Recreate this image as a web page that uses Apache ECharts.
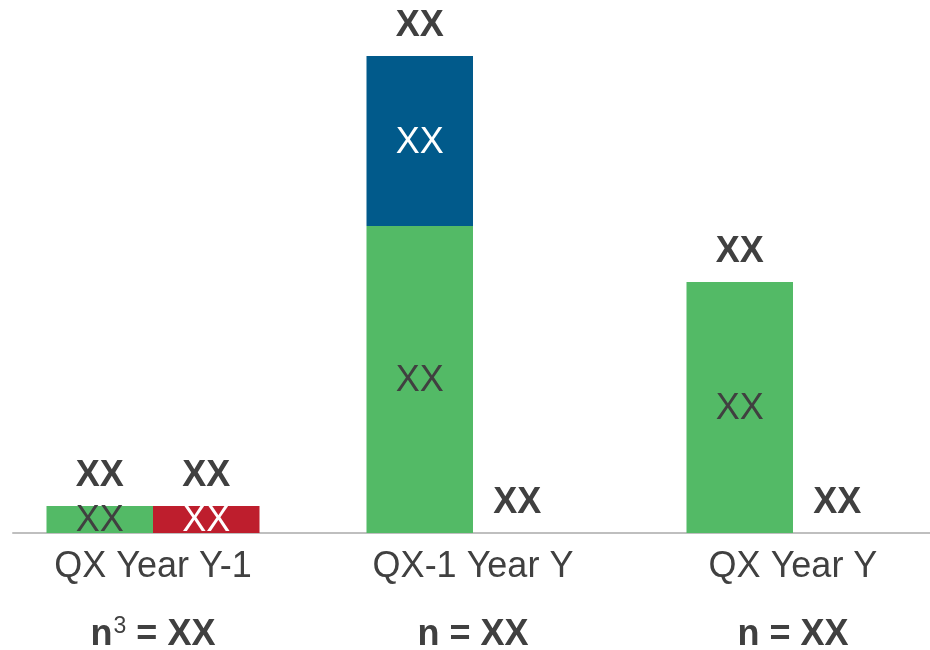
<!DOCTYPE html>
<html>
<head>
<meta charset="utf-8">
<script src="https://cdn.jsdelivr.net/npm/echarts@6/dist/echarts.min.js"></script>
<style>html,body{margin:0;padding:0;background:#fff}#c{width:930px;height:650px}</style>
</head>
<body>
<div id="c"></div>
<script>
const categories = ['QX Year Y-1', 'QX-1 Year Y', 'QX Year Y'];
const nPrefix = ['n', 'n', 'n'];
const nSuperscript = ['3', '', ''];
const nSuffix = [' = XX', ' = XX', ' = XX'];
const greenValues = [27, 307, 251];
const blueValues = [0, 170, 0];
const redValues = [27, 0, 0];
const barText = 'XX';

const FONT = '"Liberation Sans", Arial, sans-serif';
const TXT = '#404040';
const chart = echarts.init(document.getElementById('c'));

function items(vals) {
  return vals.map(v => v === 0 ? { value: v, label: { show: false } } : { value: v });
}
const leftTotals = categories.map(() => 0);
const rightTotals = redValues.map(v => v === 0 ? { value: 0, label: { offset: [-9, 0] } } : { value: 0 });

chart.setOption({
  animation: false,
  grid: [
    { left: -7, width: 960, top: 33, bottom: 117, outerBoundsMode: 'none' },
    { left: 13, right: 0, top: 33, bottom: 117, outerBoundsMode: 'none' }
  ],
  xAxis: [
    {
      type: 'category', data: categories, gridIndex: 0,
      axisLine: { show: false }, axisTick: { show: false },
      axisLabel: {
        margin: 2, interval: 0,
        formatter: (v, i) => '{a|' + v + '}\n{b|' + nPrefix[i] + '}' +
          (nSuperscript[i] ? '{s|' + nSuperscript[i] + '}' : '') + '{b|' + nSuffix[i] + '}',
        rich: {
          a: { fontFamily: FONT, fontSize: 36, color: TXT, lineHeight: 64 },
          b: { fontFamily: FONT, fontSize: 36, fontWeight: 'bold', color: TXT, lineHeight: 72 },
          s: { fontFamily: FONT, fontSize: 23, color: TXT, padding: [0, 0, 16, 1] }
        }
      }
    },
    {
      type: 'category', data: categories, gridIndex: 1, position: 'bottom',
      axisLine: { show: true, lineStyle: { color: '#bfbfbf', width: 2 } },
      axisTick: { show: false }, axisLabel: { show: false }
    }
  ],
  yAxis: [
    { type: 'value', min: 0, max: 500, gridIndex: 0, show: false },
    { type: 'value', min: 0, max: 500, gridIndex: 1, show: false }
  ],
  series: [
    {
      type: 'bar', name: 'green', stack: 'left', data: items(greenValues),
      barWidth: 106.5, barGap: '0%',
      itemStyle: { color: '#53ba66' },
      label: { show: true, position: 'inside', offset: [0, 2], formatter: barText, fontFamily: FONT, fontSize: 36, color: TXT }
    },
    {
      type: 'bar', name: 'blue', stack: 'left', data: items(blueValues),
      itemStyle: { color: '#015a8b' },
      label: { show: true, position: 'inside', offset: [0, 2], formatter: barText, fontFamily: FONT, fontSize: 36, color: '#ffffff' }
    },
    {
      type: 'bar', name: 'leftTotal', stack: 'left', data: leftTotals,
      itemStyle: { color: 'transparent' },
      label: { show: true, position: 'top', distance: 12, formatter: barText, fontFamily: FONT, fontSize: 36, fontWeight: 'bold', color: TXT }
    },
    {
      type: 'bar', name: 'red', stack: 'right', data: items(redValues),
      barWidth: 106.5,
      itemStyle: { color: '#be1e2d' },
      label: { show: true, position: 'inside', offset: [0, 2], formatter: barText, fontFamily: FONT, fontSize: 36, color: '#ffffff' }
    },
    {
      type: 'bar', name: 'rightTotal', stack: 'right', data: rightTotals,
      itemStyle: { color: 'transparent' },
      label: { show: true, position: 'top', distance: 12, formatter: barText, fontFamily: FONT, fontSize: 36, fontWeight: 'bold', color: TXT }
    }
  ]
});
</script>
</body>
</html>
